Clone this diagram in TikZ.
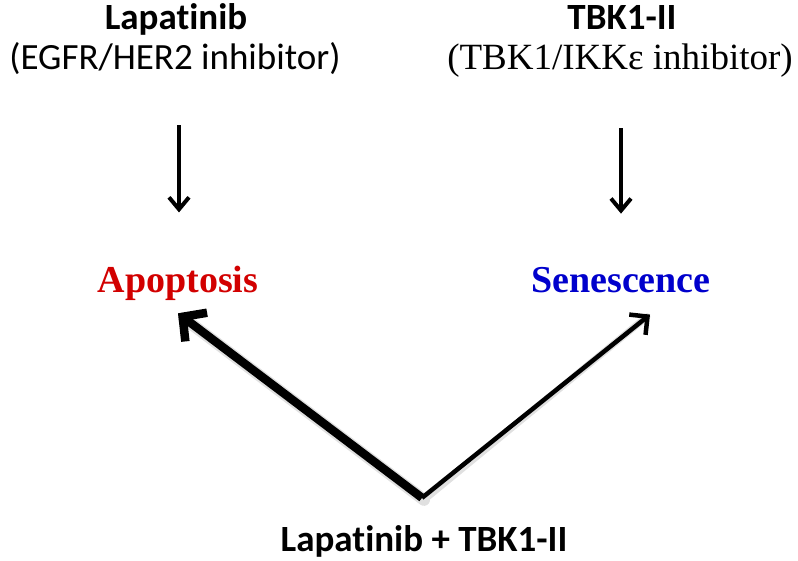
\documentclass[tikz,border=0pt]{standalone}
\usepackage{fontspec}
\setmainfont{Liberation Serif}
\newfontfamily\calib[Ligatures=NoCommon]{Carlito}
\usetikzlibrary{arrows.meta}

\definecolor{apored}{RGB}{210,0,0}
\definecolor{senblue}{RGB}{0,0,204}

\tikzset{
  drug/.style={inner sep=0pt, anchor=base, font=\calib\fontsize{37}{42}\selectfont\bfseries},
  target/.style={inner sep=0pt, anchor=base, font=\calib\fontsize{37}{42}\selectfont},
  fate/.style={inner sep=0pt, anchor=base, font=\fontsize{38}{42}\selectfont\bfseries},
  downarrow/.style={line width=4pt, -{Straight Barb[length=12pt,width=20pt]}},
  bigarrow/.style={line width=8.5pt, -{Straight Barb[length=17pt,width=36pt]}},
  smallarrow/.style={line width=4.5pt, -{Straight Barb[length=13pt,width=26pt]}},
  arrowshadow/.style={draw=black!12, line cap=round}
}

\begin{document}
\begin{tikzpicture}[x=1pt,y=-1pt]
 \useasboundingbox (0,0) rectangle (798,560);

 % the two drugs on top
 \node[drug] (lap) at (176,29) {Lapatinib};
 \node[target] (lapinfo) at (175,69) {(EGFR/HER2 inhibitor)};
 \node[drug] (tbk) at (622,29) {TBK1-II};
 \node[target, font=\fontsize{37}{40}\selectfont] (tbkinfo) at (620,69) {(TBK1/IKKε inhibitor)};

 % what each one gives
 \node[fate, text=apored] (apo) at (178,292) {Apoptosis};
 \node[fate, text=senblue] (sen) at (621,292) {Senescence};

 \draw[downarrow] ([xshift=4pt]lapinfo.south) ++(0,51) -- ([xshift=1pt,yshift=53pt]apo.north);
 \draw[downarrow] ([xshift=1pt]tbkinfo.south) ++(0,51) -- ([yshift=53pt]sen.north);

 % the combination
 \node[drug] (combo) at (424,551) {Lapatinib + TBK1-II};
 \coordinate (v) at ([xshift=-2pt,yshift=27pt]combo.north);

 % soft shadow under the two arrows
 \draw[arrowshadow, line width=12pt] ([shift={(2,2)}]v) -- ([shift={(6pt,-18pt)}]apo.south);
 \draw[arrowshadow, line width=7pt] ([shift={(2,2)}]v) -- ([shift={(26pt,-24pt)}]sen.south);

 \draw[bigarrow] (v) -- ([yshift=-13pt]apo.south);
 \draw[smallarrow] (v) -- ([xshift=29pt,yshift=-22pt]sen.south);

\end{tikzpicture}
\end{document}
